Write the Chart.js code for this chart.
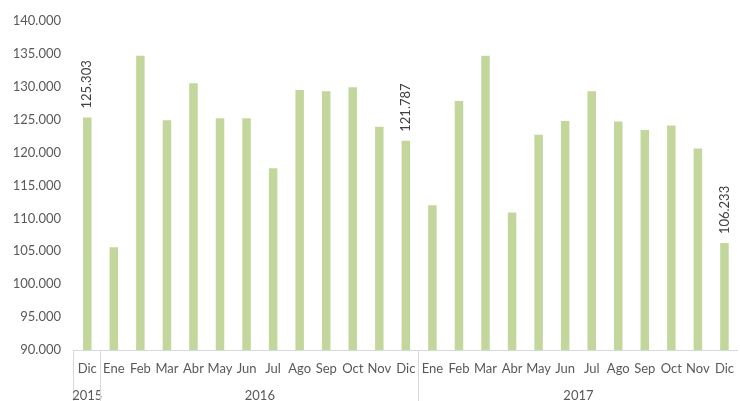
<!DOCTYPE html>
<html>
<head>
<meta charset="utf-8">
<script src="https://cdn.jsdelivr.net/npm/chart.js@4/dist/chart.umd.min.js"></script>
<style>
  html, body { margin: 0; padding: 0; background: #fff; overflow: hidden; }
  #wrap { width: 745px; height: 401px; }
</style>
</head>
<body>
<div id="wrap"><canvas id="mycanvas"></canvas></div>
<script>
var months = ['Dic',
  'Ene','Feb','Mar','Abr','May','Jun','Jul','Ago','Sep','Oct','Nov','Dic',
  'Ene','Feb','Mar','Abr','May','Jun','Jul','Ago','Sep','Oct','Nov','Dic'];
var years = ['2015', '2016', '2017'];
var yearCounts = [1, 12, 12];
var values = [125.303,
  105.6, 134.7, 124.9, 130.5, 125.2, 125.2, 117.6, 129.5, 129.3, 129.9, 123.9, 121.787,
  112.0, 127.8, 134.7, 110.9, 122.7, 124.8, 129.3, 124.7, 123.4, 124.1, 120.6, 106.233];
var labelled = [0, 12, 24];

var font = 'Lato, "Open Sans", sans-serif';

function fmt(v, dec) {
  var s = v.toFixed(dec);
  var parts = s.split('.');
  return parts[0] + '.' + (parts[1] || '000');
}

var valueLabels = {
  id: 'valueLabels',
  afterDatasetsDraw: function(chart) {
    var ctx = chart.ctx;
    var meta = chart.getDatasetMeta(0);
    ctx.save();
    ctx.fillStyle = '#404040';
    ctx.font = '13px ' + font;
    ctx.textAlign = 'left';
    ctx.textBaseline = 'middle';
    labelled.forEach(function(i) {
      var bar = meta.data[i];
      ctx.save();
      ctx.translate(bar.x, bar.y - 9);
      ctx.rotate(-Math.PI / 2);
      ctx.fillText(fmt(values[i], 3), 0, 0);
      ctx.restore();
    });
    ctx.restore();
  }
};

var yearRow = {
  id: 'yearRow',
  afterDraw: function(chart) {
    var ctx = chart.ctx;
    var x = chart.scales.x;
    var step = x.getPixelForValue(1) - x.getPixelForValue(0);
    var bottom = chart.chartArea.bottom;
    ctx.save();
    ctx.strokeStyle = '#D9D9D9';
    ctx.lineWidth = 1;
    ctx.fillStyle = '#595959';
    ctx.font = '13px ' + font;
    ctx.textAlign = 'center';
    ctx.textBaseline = 'middle';
    var start = 0;
    years.forEach(function(y, g) {
      var end = start + yearCounts[g] - 1;
      var left = x.getPixelForValue(start) - step / 2;
      var right = x.getPixelForValue(end) + step / 2;
      ctx.beginPath();
      ctx.moveTo(Math.round(left) - 0.5, bottom);
      ctx.lineTo(Math.round(left) - 0.5, chart.height);
      ctx.stroke();
      ctx.fillText(y, (left + right) / 2, bottom + 46);
      start = end + 1;
    });
    ctx.restore();
  }
};

var ctx = document.getElementById('mycanvas');
var chart = new Chart(ctx, {
  type: 'bar',
  data: {
    labels: months,
    datasets: [{
      label: 'value',
      data: values,
      backgroundColor: '#C3D69B',
      borderWidth: 0,
      barPercentage: 0.32,
      categoryPercentage: 1
    }]
  },
  options: {
    responsive: true,
    maintainAspectRatio: false,
    animation: false,
    layout: { padding: { top: 19, right: 0, left: 0, bottom: 0 } },
    plugins: {
      legend: { display: false },
      tooltip: { enabled: false },
      title: { display: false }
    },
    scales: {
      x: {
        grid: { display: false, drawTicks: false },
        border: { display: true, color: '#D9D9D9' },
        ticks: {
          color: '#595959',
          font: { family: font, size: 13 },
          padding: 11,
          maxRotation: 0,
          autoSkip: false
        },
        afterFit: function(scale) { scale.height = 51; }
      },
      y: {
        min: 90,
        max: 140,
        grid: { display: false, drawTicks: false },
        border: { display: false },
        ticks: {
          stepSize: 5,
          color: '#595959',
          font: { family: font, size: 13 },
          padding: 13,
          callback: function(v) { return fmt(v, 3); }
        },
        afterFit: function(scale) { scale.width = 74; }
      }
    }
  },
  plugins: [valueLabels, yearRow]
});
</script>
</body>
</html>
